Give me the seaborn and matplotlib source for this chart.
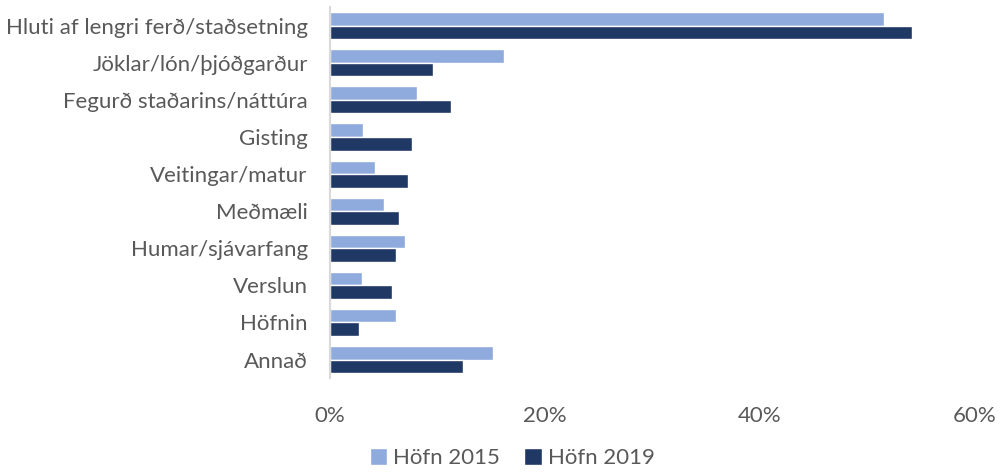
import pandas as pd
import seaborn as sns
import matplotlib.pyplot as plt
from matplotlib.ticker import PercentFormatter
from matplotlib.patches import Patch

# categories, top to bottom
categories = ["Hluti af lengri ferð/staðsetning", "Jöklar/lón/þjóðgarður",
              "Fegurð staðarins/náttúra", "Gisting", "Veitingar/matur",
              "Meðmæli", "Humar/sjávarfang", "Verslun", "Höfnin", "Annað"]

# shares
hofn_2015 = [0.515, 0.162, 0.081, 0.031, 0.042, 0.050, 0.070, 0.030, 0.061, 0.152]
hofn_2019 = [0.541, 0.096, 0.113, 0.076, 0.073, 0.064, 0.061, 0.058, 0.027, 0.124]

series = ["Höfn 2015", "Höfn 2019"]
colors = ["#8FAADC", "#203864"]
x_ticks = [0, 0.2, 0.4, 0.6]

df = pd.DataFrame({
    "flokkur": categories * 2,
    "hlutfall": hofn_2015 + hofn_2019,
    "ar": [series[0]] * len(categories) + [series[1]] * len(categories),
})

sns.set_style("white")
plt.rcParams["font.family"] = ["Lato", "DejaVu Sans"]
text_col = "#595959"

fig = plt.figure(figsize=(10, 4.75), dpi=100)
ax = fig.add_axes([0.33, 0.204, 0.645, 0.781])

sns.barplot(data=df, y="flokkur", x="hlutfall", hue="ar", order=categories,
            hue_order=series, palette=colors, orient="h", width=0.73,
            saturation=1, legend=False, ax=ax)

ax.set_xlim(0, 0.6)
ax.set_xticks(x_ticks)
ax.xaxis.set_major_formatter(PercentFormatter(1.0, decimals=0))
ax.set_xlabel("")
ax.set_ylabel("")
for s in ["top", "right", "bottom"]:
    ax.spines[s].set_visible(False)
ax.spines["left"].set_color("#D9D9D9")
ax.spines["left"].set_linewidth(1.5)
ax.tick_params(axis="both", length=0, labelsize=16, colors=text_col)
ax.tick_params(axis="x", pad=20)
ax.tick_params(axis="y", pad=16)

handles = [Patch(facecolor=c, label=s) for c, s in zip(colors, series)]
fig.legend(handles=handles, loc="lower center", bbox_to_anchor=(0.512, -0.028),
           ncol=2, frameon=False, fontsize=16, handlelength=0.8, handleheight=0.8,
           handletextpad=0.25, columnspacing=1.1, labelcolor=text_col)

fig.savefig("out.png", dpi=100)
